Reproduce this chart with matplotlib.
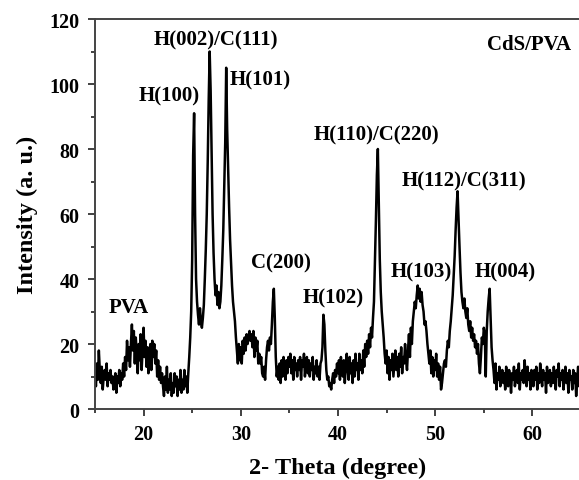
import numpy as np
import matplotlib
matplotlib.use("Agg")
import matplotlib.pyplot as plt
from matplotlib.ticker import MultipleLocator

plt.rcParams['font.family'] = ['Liberation Serif', 'DejaVu Serif']
plt.rcParams['font.weight'] = 'bold'

# XRD scan, 2-theta from 15 to 65 deg in 0.1 deg steps (one row per degree)
two_theta = np.round(np.arange(150, 651) / 10.0, 1)
intensity = [
    11, 7, 14, 9, 18, 12, 8, 13, 6, 10,        # 15
    12, 9, 14, 7, 11, 9, 12, 8, 10, 6,         # 16
    9, 11, 5, 10, 8, 12, 7, 11, 9, 14,         # 17
    10, 16, 12, 21, 15, 19, 13, 20, 26, 18,    # 18
    24, 14, 22, 17, 11, 20, 15, 23, 12, 18,    # 19
    25, 16, 21, 13, 19, 11, 17, 20, 12, 21,    # 20
    16, 20, 14, 18, 10, 15, 9, 13, 8, 11,      # 21
    7, 4, 10, 6, 13, 5, 9, 6, 11, 4,           # 22
    8, 5, 11, 7, 10, 4, 9, 6, 12, 5,           # 23
    9, 6, 12, 7, 10, 5, 11, 16, 22, 30,        # 24
    46, 78, 91, 60, 40, 33, 29, 26, 31, 27,    # 25
    25, 28, 32, 40, 49, 60, 76, 95, 110, 98,   # 26
    78, 60, 48, 40, 35, 38, 32, 36, 31, 33,    # 27
    38, 46, 55, 68, 82, 105, 86, 74, 62, 52,   # 28
    45, 38, 33, 30, 27, 22, 18, 14, 20, 15,    # 29
    19, 14, 21, 17, 22, 18, 23, 20, 22, 24,    # 30
    21, 23, 19, 24, 16, 22, 18, 21, 14, 17,    # 31
    14, 16, 11, 10, 13, 9, 15, 19, 21, 18,     # 32
    22, 20, 26, 33, 37, 28, 16, 10, 13, 9,     # 33
    14, 8, 15, 10, 16, 12, 9, 15, 11, 16,      # 34
    13, 17, 11, 15, 9, 16, 12, 14, 10, 15,     # 35
    12, 16, 9, 15, 13, 17, 10, 14, 16, 11,     # 36
    15, 10, 14, 12, 16, 9, 13, 11, 15, 10,     # 37
    13, 9, 14, 15, 19, 29, 26, 18, 12, 9,      # 38
    10, 7, 8, 6, 9, 11, 8, 12, 10, 14,         # 39
    11, 15, 9, 16, 12, 10, 15, 8, 13, 17,      # 40
    12, 9, 16, 11, 14, 8, 15, 10, 17, 12,      # 41
    14, 9, 17, 12, 15, 11, 18, 13, 20, 16,     # 42
    21, 17, 23, 19, 25, 22, 28, 33, 45, 58,    # 43
    72, 80, 62, 46, 36, 30, 26, 22, 17, 14,    # 44
    18, 11, 16, 9, 15, 12, 17, 10, 14, 18,     # 45
    12, 16, 10, 17, 13, 19, 11, 16, 14, 20,    # 46
    15, 12, 18, 23, 16, 25, 20, 27, 30, 33,    # 47
    31, 35, 38, 34, 37, 33, 36, 32, 30, 26,    # 48
    27, 24, 20, 17, 14, 18, 11, 16, 10, 15,    # 49
    12, 17, 10, 14, 9, 13, 6, 8, 11, 14,       # 50
    15, 13, 18, 21, 19, 24, 27, 31, 35, 41,    # 51
    47, 55, 62, 67, 58, 50, 42, 36, 33, 31,    # 52
    34, 30, 28, 31, 26, 24, 27, 22, 25, 21,    # 53
    23, 19, 21, 17, 20, 14, 11, 16, 22, 20,    # 54
    25, 23, 10, 24, 30, 34, 37, 28, 19, 15,    # 55
    12, 8, 14, 6, 11, 9, 13, 7, 10, 12,        # 56
    8, 11, 6, 13, 9, 7, 12, 10, 5, 11,         # 57
    9, 13, 7, 10, 12, 8, 14, 6, 11, 9,         # 58
    12, 8, 15, 10, 7, 13, 9, 11, 6, 12,        # 59
    10, 7, 12, 9, 13, 6, 11, 8, 14, 10,        # 60
    7, 12, 9, 11, 5, 13, 8, 10, 12, 7,         # 61
    11, 8, 13, 9, 6, 12, 10, 14, 7, 11,        # 62
    9, 12, 6, 10, 13, 8, 11, 5, 12, 9,         # 63
    10, 6, 12, 8, 11, 4, 9, 13, 7, 10,         # 64
    8,                                         # 65
]

# reflection labels and where they sit
peak_labels = ["PVA", "H(100)", "H(002)/C(111)", "H(101)", "C(200)", "H(102)",
               "H(110)/C(220)", "H(103)", "H(112)/C(311)", "H(004)"]
label_x = [18.5, 22.6, 27.4, 32.0, 34.1, 39.5, 44.0, 48.6, 53.0, 57.15]
label_y = [31.3, 96.6, 113.8, 101.5, 45.2, 34.4, 84.6, 42.3, 70.2, 42.3]

fig = plt.figure(figsize=(5.79, 4.81), dpi=100)
ax = fig.add_axes([0.164, 0.1476, 0.8395, 0.8108])

ax.plot(two_theta, intensity, color="black", lw=1.8)

for txt, x, y in zip(peak_labels, label_x, label_y):
    ax.text(x, y, txt, ha="center", va="center", fontsize=15, fontweight="bold")
ax.text(59.7, 112.3, "CdS/PVA", ha="center", va="center", fontsize=15, fontweight="bold")

ax.set_xlim(15, 65)
ax.set_ylim(0, 120)
ax.xaxis.set_major_locator(MultipleLocator(10))
ax.xaxis.set_minor_locator(MultipleLocator(5))
ax.yaxis.set_major_locator(MultipleLocator(20))
ax.yaxis.set_minor_locator(MultipleLocator(10))
ax.tick_params(which="both", direction="out", top=False, right=False,
               width=1.3, colors="#333333", labelcolor="black", labelsize=14.5)
ax.tick_params(which="major", length=5, pad=6)
ax.tick_params(which="minor", length=3)
for lab in ax.get_xticklabels() + ax.get_yticklabels():
    lab.set_fontweight("bold")
for side in ["left", "bottom", "top", "right"]:
    ax.spines[side].set_linewidth(1.4)
    ax.spines[side].set_color("#444444")

ax.set_xlabel("2- Theta (degree)", fontsize=17.5, fontweight="bold", labelpad=9)
ax.set_ylabel("Intensity (a. u.)", fontsize=17.5, fontweight="bold", labelpad=8)

fig.savefig("out.png", dpi=100)
